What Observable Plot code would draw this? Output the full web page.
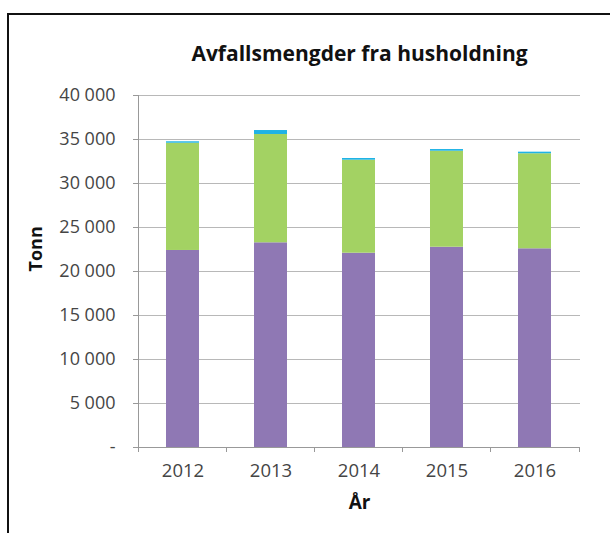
<!DOCTYPE html>
<html>
<head>
<meta charset="utf-8">
<script src="https://cdn.jsdelivr.net/npm/d3@7"></script>
<script src="https://cdn.jsdelivr.net/npm/@observablehq/plot@0.6"></script>
<style>
  html, body { margin: 0; padding: 0; background: #fff; overflow: hidden; }
  #wrap { position: relative; width: 610px; height: 533px; }
  #border { position: absolute; left: 7px; top: 13px; width: 700px; height: 700px;
            border-left: 2.5px solid #111; border-top: 2.5px solid #111; pointer-events: none; }
  #chart svg { display: block; }
</style>
</head>
<body>
<div id="wrap"><div id="chart"></div><div id="border"></div></div>
<script>
const title = "Avfallsmengder fra husholdning";
const years = ["2012", "2013", "2014", "2015", "2016"];
const seriesNames = ["Serie 1", "Serie 2", "Serie 3"];
const serie1 = [22390, 23260, 22080, 22760, 22580];
const serie2 = [12190, 12310, 10570, 10910, 10800];
const serie3 = [160, 450, 190, 190, 180];
const yTicks = [0, 5000, 10000, 15000, 20000, 25000, 30000, 35000, 40000];
const colors = ["#8f78b4", "#a3d263", "#1fb3e6"];

const data = [];
years.forEach((yr, i) => {
  data.push({year: yr, series: seriesNames[0], value: serie1[i]});
  data.push({year: yr, series: seriesNames[1], value: serie2[i]});
  data.push({year: yr, series: seriesNames[2], value: serie3[i]});
});

const fmtY = v => v === 0 ? "-" : String(v).replace(/\B(?=(\d{3})+(?!\d))/g, " ");

// axis line and band-boundary ticks
function axisLines(index, scales, values, dims) {
  const x = scales.x, y = scales.y;
  const bw = typeof x.bandwidth === "function" ? x.bandwidth() : (x.bandwidth || 0);
  const step = (dims.width - dims.marginLeft - dims.marginRight) / years.length;
  const g = d3.create("svg:g").attr("stroke", "#999").attr("stroke-width", 1);
  const y0 = y(0);
  const left = dims.marginLeft;
  g.append("line").attr("x1", left + 0.5).attr("x2", left + 0.5)
    .attr("y1", y(yTicks[yTicks.length - 1])).attr("y2", y0 + 0.5);
  const xs = years.map(yr => x(yr) + bw / 2 - step / 2);
  xs.push(x(years[years.length - 1]) + bw / 2 + step / 2);
  for (const xv of xs) {
    if (!isFinite(xv)) continue;
    g.append("line").attr("x1", Math.round(xv) + 0.5).attr("x2", Math.round(xv) + 0.5)
      .attr("y1", y0).attr("y2", y0 + 5);
  }
  return g.node();
}

const plot = Plot.plot({
  width: 610,
  height: 533,
  marginLeft: 138,
  marginRight: 30,
  marginTop: 95,
  marginBottom: 86,
  style: {fontFamily: "'Open Sans', sans-serif", background: "transparent", color: "#404040", overflow: "hidden"},
  x: {domain: years, paddingInner: 0.62, paddingOuter: 0.31, label: null},
  y: {domain: [0, 40000], label: null},
  color: {domain: seriesNames, range: colors},
  marks: [
    Plot.gridY(yTicks, {stroke: "#b8b8b8", strokeOpacity: 1, strokeWidth: 1}),
    Plot.barY(data, {x: "year", y: "value", fill: "series", order: seriesNames}),
    Plot.ruleY([0], {stroke: "#999", strokeWidth: 1}),
    Plot.axisY({ticks: yTicks, tickFormat: fmtY, tickSize: 5, tickPadding: 18, stroke: "#999",
                fontSize: 18, fill: "#454545", label: null}),
    Plot.axisX({tickSize: 0, tickPadding: 16, fontSize: 18.5, fill: "#454545", label: null}),
    axisLines,
    Plot.text([title], {frameAnchor: "top", dy: -49, fontSize: 21, fontWeight: "bold", fill: "#111"}),
    Plot.text(["Tonn"], {frameAnchor: "left", dx: -102, rotate: -90, fontSize: 18, fontWeight: "bold", fill: "#111"}),
    Plot.text(["År"], {frameAnchor: "bottom", dy: 61, fontSize: 19, fontWeight: "bold", fill: "#111"})
  ]
});
document.getElementById("chart").appendChild(plot);
</script>
</body>
</html>
